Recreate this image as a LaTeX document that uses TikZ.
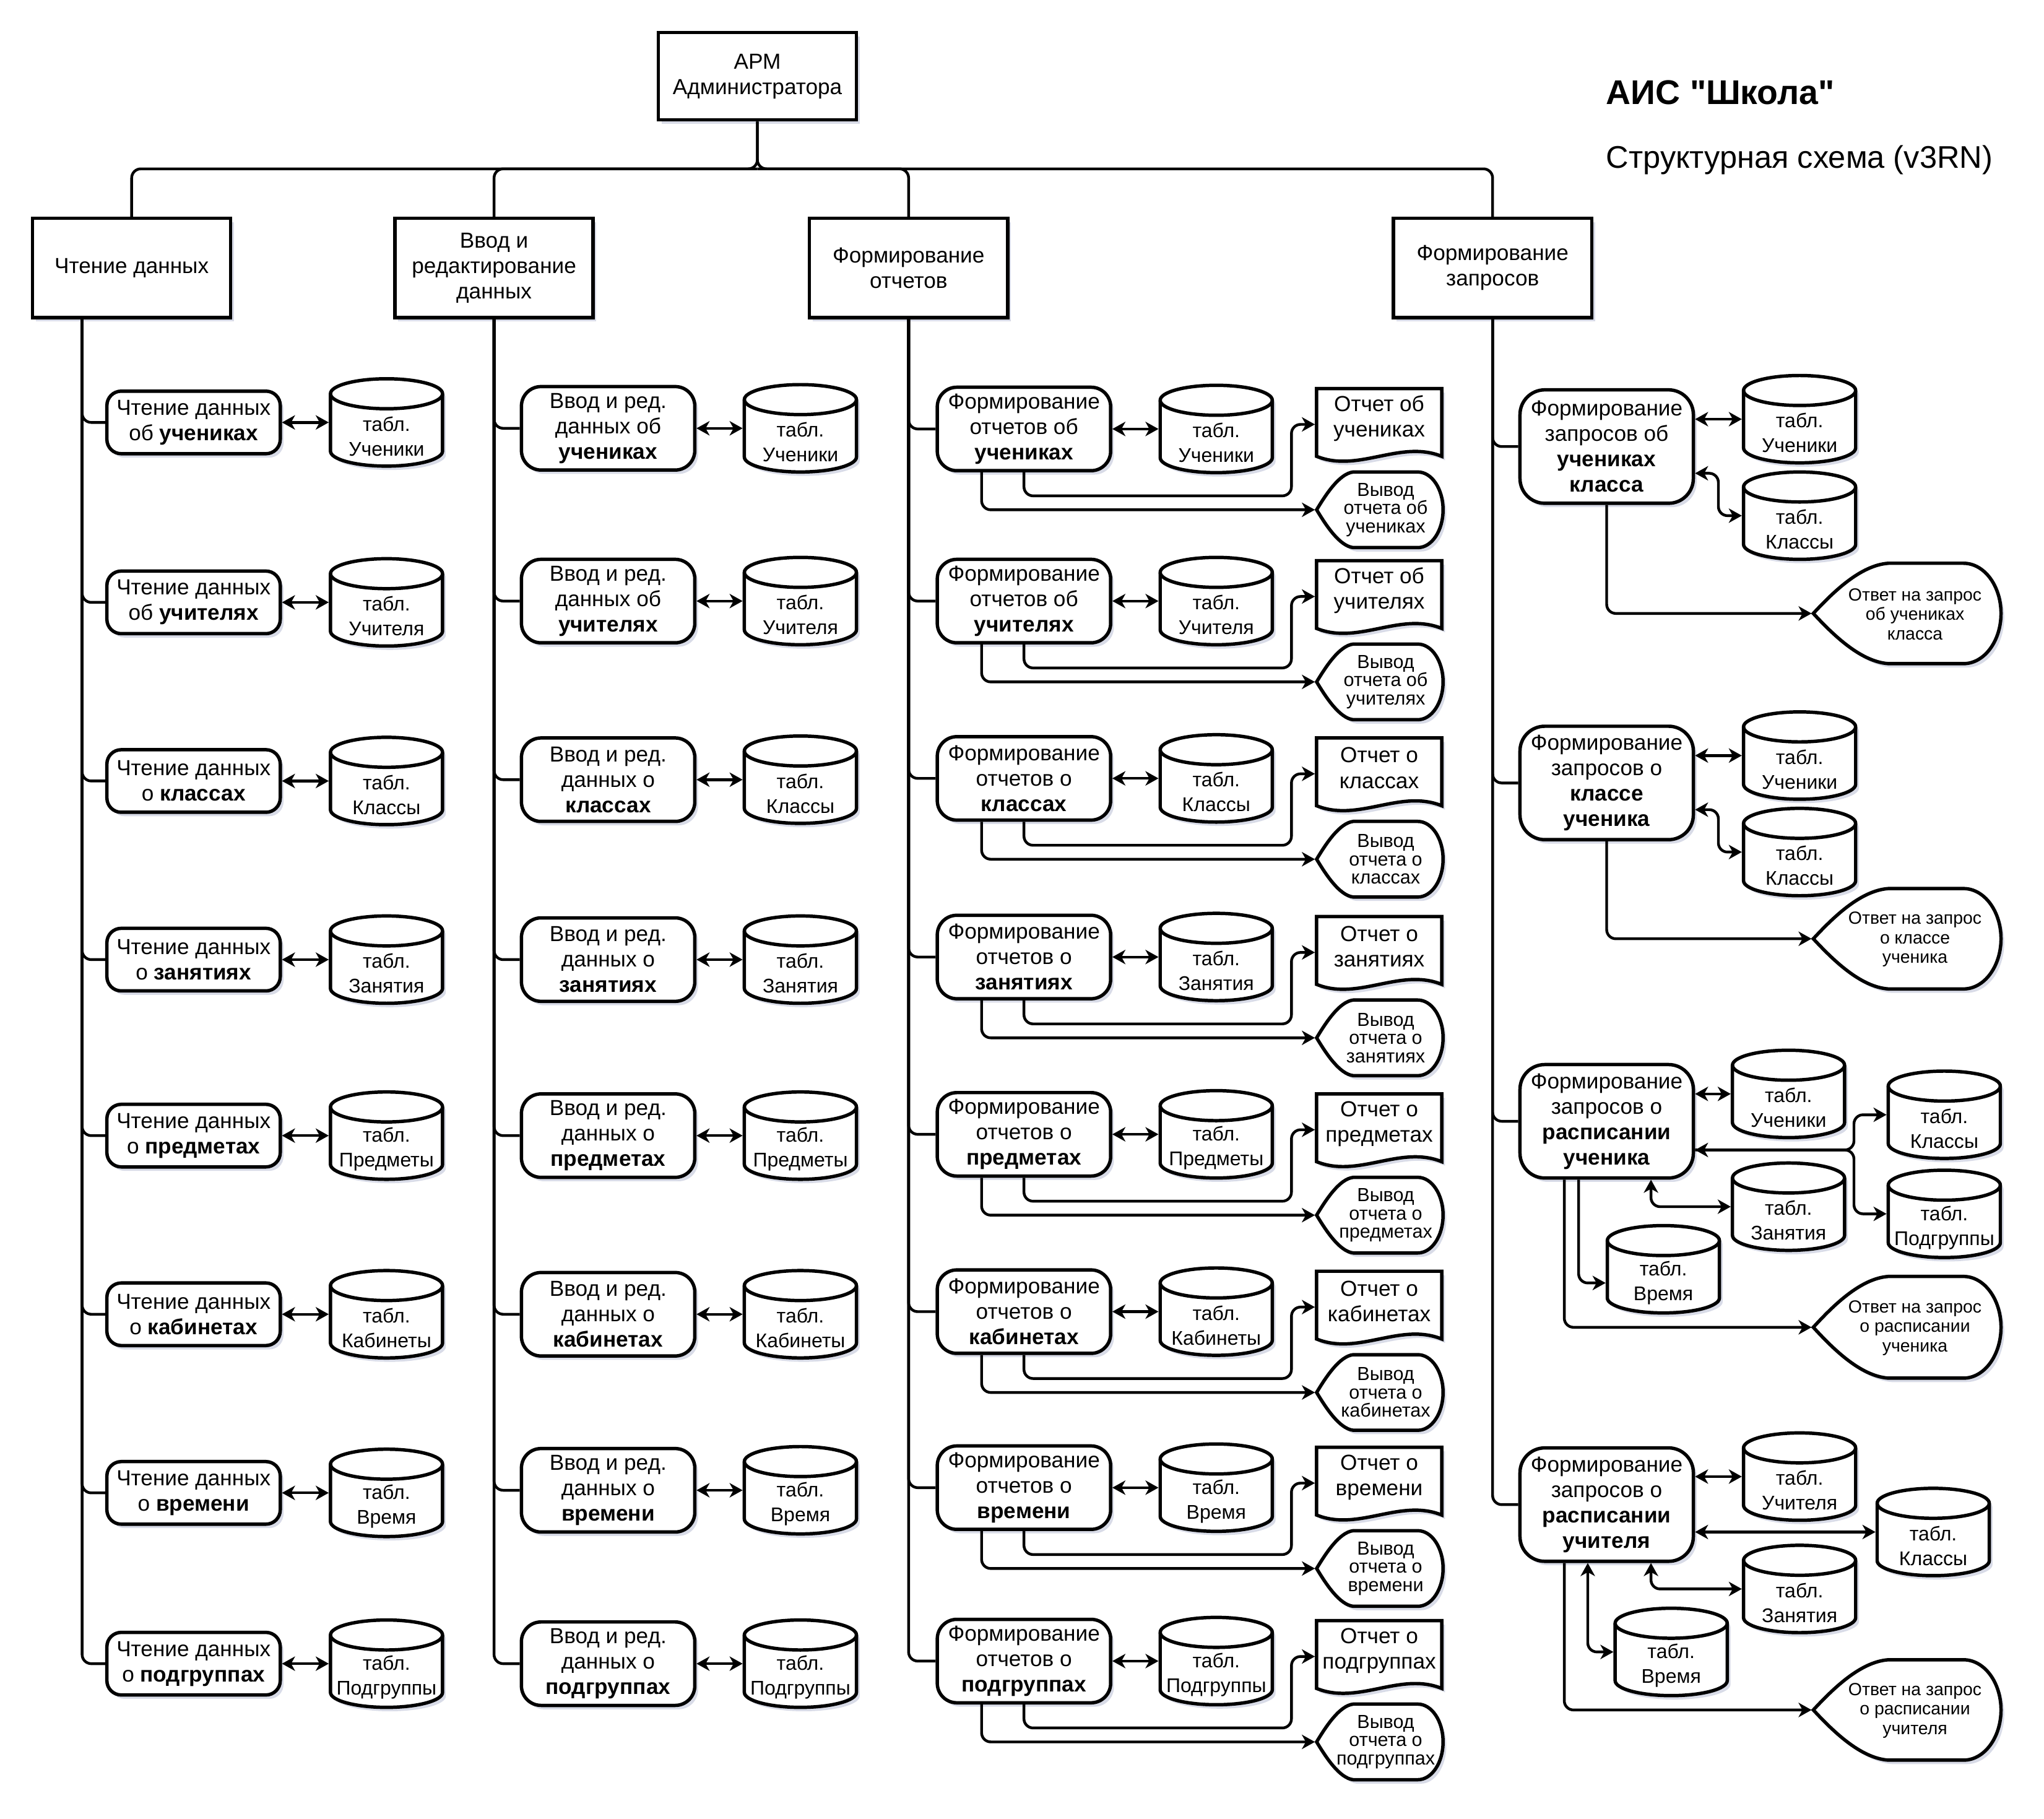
\documentclass[tikz,border=0pt]{standalone}
\usepackage{fontspec}
\setmainfont{Liberation Sans}
\newfontfamily\titlefont{Liberation Sans}
\usetikzlibrary{arrows.meta,calc,shadows}
\definecolor{shadowc}{RGB}{200,204,222}
\newcommand\fsz[2]{\fontsize{#1}{#2}\selectfont}
\tikzset{
  shp/.style={draw=black, fill=white, line width=2.6pt, drop shadow={shadow xshift=2.5pt, shadow yshift=-3pt, fill=shadowc, opacity=0.7}},
  shpline/.style={draw=black, line width=2.6pt},
  ghost/.style={rectangle, draw=none, fill=none, inner sep=0pt, outer sep=1.3pt},
  lvlbox/.style={shp, rectangle, inner sep=0pt, minimum width=152, minimum height=76, align=center, font=\fsz{16.7}{19.5}},
  boxa/.style={shp, rectangle, rounded corners=11pt, inner sep=0pt, minimum width=133, minimum height=48, align=center, font=\fsz{16.7}{19.5}},
  boxb/.style={boxa, rounded corners=15pt, minimum height=64},
  boxq/.style={boxa, rounded corners=19pt, minimum height=87},
  tbltxt/.style={align=center, inner sep=0pt, font=\fsz{15.2}{19}},
  doctxt/.style={align=center, inner sep=0pt, font=\fsz{16.7}{19.5}},
  disptxt/.style={align=center, inner sep=0pt, font=\fsz{14.5}{14}},
  anstxt/.style={align=center, inner sep=0pt, font=\fsz{13.5}{15}},
  conn/.style={draw=black, line width=2.1pt, rounded corners=7pt},
}
% cylinder: name, cx, cy, text
\newcommand\Cyl[4]{%
  \begin{scope}[shift={(#2,#3)}]
    \path[shp] (-43,-22) .. controls (-43,-28.35) and (-23.75,-33.5) .. (0,-33.5) .. controls (23.75,-33.5) and (43,-28.35) .. (43,-22) -- (43,22) .. controls (43,28.35) and (23.75,33.5) .. (0,33.5) .. controls (-23.75,33.5) and (-43,28.35) .. (-43,22) -- cycle;
    \draw[shpline] (-43,-22) .. controls (-43,-15.65) and (-23.75,-10.5) .. (0,-10.5) .. controls (23.75,-10.5) and (43,-15.65) .. (43,-22);
  \end{scope}
  \node[ghost, minimum width=86, minimum height=67] (#1) at (#2,#3) {};
  \node[tbltxt] at (#2,#3+10.5) {табл.\\#4};
}
% document: name, cx, row cy, text
\newcommand\Doc[4]{%
  \begin{scope}[shift={(#2,#3)}]
    \path[shp] (-48,21) -- (-48,-31) -- (48,-31) -- (48,21) .. controls (16,8) and (-16,34) .. (-48,21) -- cycle;
  \end{scope}
  \node[ghost, minimum width=96, minimum height=55] (#1) at (#2,#3-3.5) {};
  \node[doctxt] at (#2,#3-8) {#4};
}
% display: name, cx, cy, w, h, L
\newcommand\Disp[6]{%
  \pgfmathsetmacro\dsL{#2-#4/2}%
  \pgfmathsetmacro\dsR{#2+#4/2}%
  \pgfmathsetmacro\dsT{#3-#5/2}%
  \pgfmathsetmacro\dsB{#3+#5/2}%
  \pgfmathsetmacro\dsA{\dsL+#6*#4}%
  \pgfmathsetmacro\dsCa{\dsL+0.25*#6*#4}%
  \pgfmathsetmacro\dsCb{\dsL+0.62*#6*#4}%
  \pgfmathsetmacro\dsYa{#3-0.2*#5}%
  \pgfmathsetmacro\dsYb{\dsT+0.02*#5}%
  \pgfmathsetmacro\dsYc{#3+0.2*#5}%
  \pgfmathsetmacro\dsYd{\dsB-0.02*#5}%
  \pgfmathsetmacro\dsQ{\dsL+0.8*#4}%
  \pgfmathsetmacro\dsQa{\dsQ+0.2*#4*0.5523}%
  \pgfmathsetmacro\dsQb{#3-0.5*#5*0.5523}%
  \pgfmathsetmacro\dsQc{#3+0.5*#5*0.5523}%
  \path[shp] (\dsL,#3) .. controls (\dsCa,\dsYa) and (\dsCb,\dsYb) .. (\dsA,\dsT) -- (\dsQ,\dsT) .. controls (\dsQa,\dsT) and (\dsR,\dsQb) .. (\dsR,#3) .. controls (\dsR,\dsQc) and (\dsQa,\dsB) .. (\dsQ,\dsB) -- (\dsA,\dsB) .. controls (\dsCb,\dsYd) and (\dsCa,\dsYc) .. (\dsL,#3) -- cycle;
  \node[ghost, minimum width=#4, minimum height=#5] (#1) at (#2,#3) {};
}
\begin{document}
\begin{tikzpicture}[x=1pt, y=-1pt, >={Stealth[length=10pt,width=11pt,inset=3pt]}]
\fill[white] (0,0) rectangle (1568,1395);
\useasboundingbox (0,0) rectangle (1568,1395);

\node[anchor=base west, inner sep=0pt, font=\titlefont\fsz{26.3}{30}\bfseries] (title) at (1232,80) {АИС "Школа"};
\node[anchor=base west, inner sep=0pt, font=\fsz{24}{29}] (subtitle) at (1232,128.8) {Структурная схема (v3RN)};

\node[lvlbox, minimum height=67] (apm) at (581,58.5) {АРМ\\Администратора};
\node[lvlbox] (l1) at (101,205.5) {Чтение данных};
\node[lvlbox] (l2) at (379,205.5) {Ввод и\\редактирование\\данных};
\node[lvlbox] (l3) at (697,205.5) {Формирование\\отчетов};
\node[lvlbox] (l4) at (1145,205.5) {Формирование\\запросов};

\coordinate (bus) at (581,129.5);
\draw[conn] (apm.south) -- (bus) -| (l1.north);
\draw[conn] (apm.south) -- (bus) -| (l4.north);
\draw[conn] (bus) -| (l2.north);
\draw[conn] (bus) -| (l3.north);

\coordinate (t1) at ($(l1.south)+(-38,0)$);
\coordinate (t2) at (l2.south);
\coordinate (t3) at (l3.south);
\coordinate (t4) at (l4.south);

% column 1
\foreach \vn/\vcy/\vpr/\vwd/\vtb in {1/324/об/учениках/Ученики, 2/462/об/учителях/Учителя, 3/599/о/классах/Классы, 4/736/о/занятиях/Занятия, 5/871/о/предметах/Предметы, 6/1008/о/кабинетах/Кабинеты, 7/1145/о/времени/Время, 8/1276/о/подгруппах/Подгруппы}{
  \node[boxa] (a\vn) at (148.5,\vcy) {Чтение данных\\\vpr\ \textbf{\vwd}};
  \Cyl{ta\vn}{296.5}{\vcy}{\vtb}
  \draw[conn] (t1) |- (a\vn.west);
  \draw[conn,<->] (a\vn.east) -- (a\vn.east -| ta\vn.west);
}

% column 2
\foreach \vn/\vcy/\vpr/\vwd/\vtb in {1/328.5/об/учениках/Ученики, 2/461/об/учителях/Учителя, 3/598/о/классах/Классы, 4/736/о/занятиях/Занятия, 5/871/о/предметах/Предметы, 6/1008/о/кабинетах/Кабинеты, 7/1143/о/времени/Время, 8/1276/о/подгруппах/Подгруппы}{
  \node[boxb] (b\vn) at (466.5,\vcy) {Ввод и ред.\\данных \vpr\\\textbf{\vwd}};
  \Cyl{tb\vn}{614}{\vcy}{\vtb}
  \draw[conn] (t2) |- (b\vn.west);
  \draw[conn,<->] (b\vn.east) -- (b\vn.east -| tb\vn.west);
}

% column 3
\foreach \vn/\vcy/\vpr/\vwd/\vtb in {1/329/об/учениках/Ученики, 2/461/об/учителях/Учителя, 3/597/о/классах/Классы, 4/734/о/занятиях/Занятия, 5/870/о/предметах/Предметы, 6/1006/о/кабинетах/Кабинеты, 7/1141/о/времени/Время, 8/1274/о/подгруппах/Подгруппы}{
  \node[boxb] (c\vn) at (785.5,\vcy) {Формирование\\отчетов \vpr\\\textbf{\vwd}};
  \Cyl{tc\vn}{933}{\vcy}{\vtb}
  \Doc{d\vn}{1058}{\vcy}{Отчет \vpr\\\vwd}
  \Disp{v\vn}{1058.5}{\vcy+62}{97}{58}{0.29}
  \node[disptxt] at (1063,\vcy+62) {Вывод\\отчета \vpr\\\vwd};
  \draw[conn] (t3) |- (c\vn.west);
  \draw[conn,<->] (c\vn.east) -- (c\vn.east -| tc\vn.west);
  \draw[conn,->] (c\vn.south) -- ++(0,18) -| ($(d\vn.west)+(-18,0)$) -- (d\vn.west);
  \draw[conn,->] ($(c\vn.south)+(-32.5,0)$) |- (v\vn.west);
}

% column 4, query 1
\node[boxq] (q1) at (1232.5,342.5) {Формирование\\запросов об\\\textbf{учениках}\\\textbf{класса}};
\Cyl{q1u}{1380.5}{321.5}{Ученики}
\Cyl{q1k}{1380.5}{395.5}{Классы}
\Disp{q1a}{1463}{470.5}{144}{77}{0.40}
\node[anstxt] at (1469,471) {Ответ на запрос\\об учениках\\класса};
\draw[conn] (t4) |- (q1.west);
\draw[conn,<->] (q1.east |- q1u.west) -- (q1u.west);
\draw[conn,<->] ($(q1.east)+(0,20.5)$) -| ($(q1k.west)+(-18,0)$) -- (q1k.west);
\draw[conn,->] (q1.south) |- (q1a.west);

% query 2
\node[boxq] (q2) at (1232.5,600.5) {Формирование\\запросов о\\\textbf{классе}\\\textbf{ученика}};
\Cyl{q2u}{1380.5}{579.5}{Ученики}
\Cyl{q2k}{1380.5}{653.5}{Классы}
\Disp{q2a}{1463}{720}{144}{77}{0.40}
\node[anstxt] at (1469,720.5) {Ответ на запрос\\о классе\\ученика};
\draw[conn] (t4) |- (q2.west);
\draw[conn,<->] (q2.east |- q2u.west) -- (q2u.west);
\draw[conn,<->] ($(q2.east)+(0,20.5)$) -| ($(q2k.west)+(-18,0)$) -- (q2k.west);
\draw[conn,->] (q2.south) |- (q2a.west);

% query 3
\node[boxq] (q3) at (1232.5,860) {Формирование\\запросов о\\\textbf{расписании}\\\textbf{ученика}};
\Cyl{q3u}{1372}{839}{Ученики}
\Cyl{q3k}{1491.5}{855}{Классы}
\Cyl{q3p}{1491.5}{931}{Подгруппы}
\Cyl{q3z}{1372}{925.5}{Занятия}
\Cyl{q3t}{1276}{973.5}{Время}
\Disp{q3a}{1463}{1018}{144}{78}{0.40}
\node[anstxt] at (1469,1018.5) {Ответ на запрос\\о расписании\\ученика};
\draw[conn] (t4) |- (q3.west);
\draw[conn,<->] (q3.east |- q3u.west) -- (q3u.west);
\draw[conn,<->] ($(q3.east)+(0,22)$) -| ($(q3k.west)+(-25,0)$) -- (q3k.west);
\draw[conn,->] ($(q3.east)+(0,22)$) -| ($(q3p.west)+(-25,0)$) -- (q3p.west);
\draw[conn,<->] ($(q3.south)+(34,0)$) |- (q3z.west);
\draw[conn,->] ($(q3.south)+(-21.5,0)$) |- ($(q3t.west)+(0,10.5)$);
\draw[conn,->] ($(q3.south)+(-32.5,0)$) |- (q3a.west);

% query 4
\node[boxq] (q4) at (1232.5,1154) {Формирование\\запросов о\\\textbf{расписании}\\\textbf{учителя}};
\Cyl{q4u}{1380.5}{1132.5}{Учителя}
\Cyl{q4k}{1483}{1175}{Классы}
\Cyl{q4z}{1380.5}{1218.7}{Занятия}
\Cyl{q4t}{1282}{1267}{Время}
\Disp{q4a}{1463}{1311.5}{144}{77}{0.40}
\node[anstxt] at (1469,1312) {Ответ на запрос\\о расписании\\учителя};
\draw[conn] (t4) |- (q4.west);
\draw[conn,<->] (q4.east |- q4u.west) -- (q4u.west);
\draw[conn,<->] (q4.east |- q4k.west) -- (q4k.west);
\draw[conn,<->] ($(q4.south)+(34,0)$) |- (q4z.west);
\draw[conn,<->] ($(q4.south)+(-14.5,0)$) |- (q4t.west);
\draw[conn,->] ($(q4.south)+(-32.5,0)$) |- (q4a.west);
\end{tikzpicture}
\end{document}
